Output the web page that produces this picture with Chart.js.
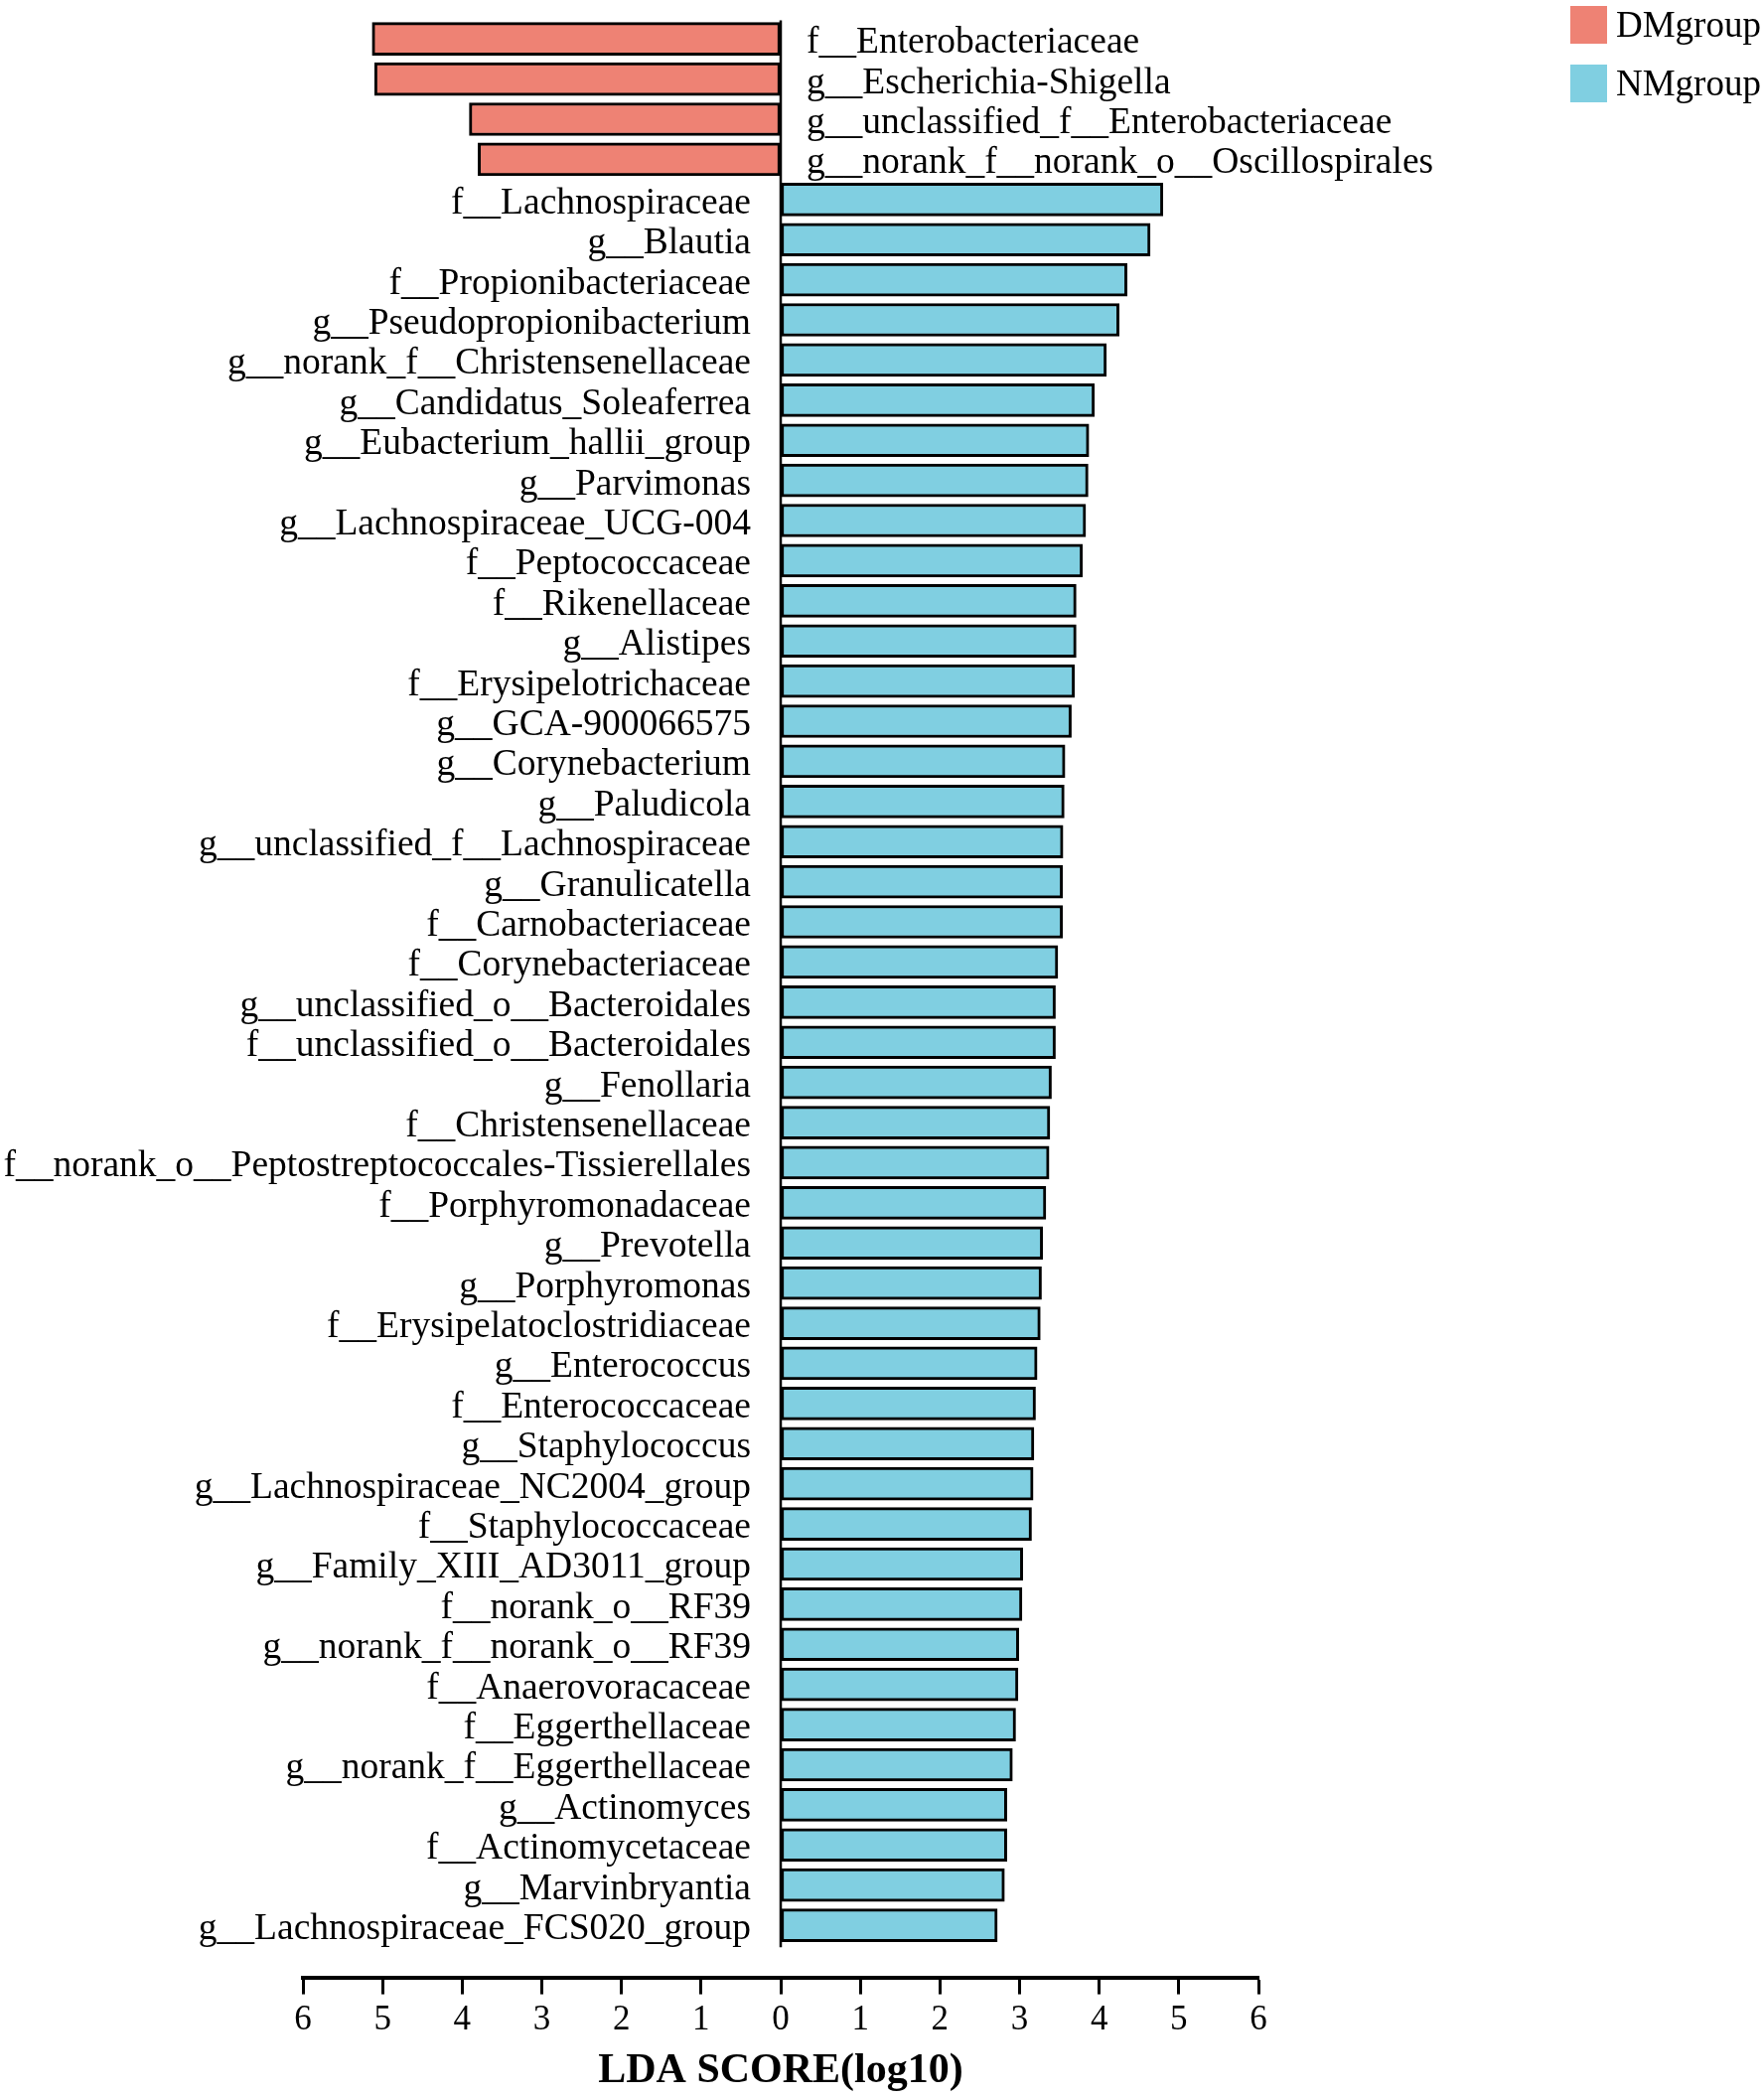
<!DOCTYPE html>
<html>
<head>
<meta charset="utf-8">
<title>LDA score</title>
<script src="https://cdn.jsdelivr.net/npm/chart.js@4.4.1/dist/chart.umd.min.js"></script>
<style>
  html, body { margin: 0; padding: 0; background: #fff; }
  #wrap { width: 1776px; height: 2112px; position: relative; }
</style>
</head>
<body>
<div id="wrap"><canvas id="lda"></canvas></div>
<script>
// taxa enriched in each group, top to bottom
const dmLabels = [
    'f__Enterobacteriaceae',
    'g__Escherichia-Shigella',
    'g__unclassified_f__Enterobacteriaceae',
    'g__norank_f__norank_o__Oscillospirales'
];
const dmScores = [5.13, 5.10, 3.91, 3.80];

const nmLabels = [
    'f__Lachnospiraceae',
    'g__Blautia',
    'f__Propionibacteriaceae',
    'g__Pseudopropionibacterium',
    'g__norank_f__Christensenellaceae',
    'g__Candidatus_Soleaferrea',
    'g__Eubacterium_hallii_group',
    'g__Parvimonas',
    'g__Lachnospiraceae_UCG-004',
    'f__Peptococcaceae',
    'f__Rikenellaceae',
    'g__Alistipes',
    'f__Erysipelotrichaceae',
    'g__GCA-900066575',
    'g__Corynebacterium',
    'g__Paludicola',
    'g__unclassified_f__Lachnospiraceae',
    'g__Granulicatella',
    'f__Carnobacteriaceae',
    'f__Corynebacteriaceae',
    'g__unclassified_o__Bacteroidales',
    'f__unclassified_o__Bacteroidales',
    'g__Fenollaria',
    'f__Christensenellaceae',
    'f__norank_o__Peptostreptococcales-Tissierellales',
    'f__Porphyromonadaceae',
    'g__Prevotella',
    'g__Porphyromonas',
    'f__Erysipelatoclostridiaceae',
    'g__Enterococcus',
    'f__Enterococcaceae',
    'g__Staphylococcus',
    'g__Lachnospiraceae_NC2004_group',
    'f__Staphylococcaceae',
    'g__Family_XIII_AD3011_group',
    'f__norank_o__RF39',
    'g__norank_f__norank_o__RF39',
    'f__Anaerovoracaceae',
    'f__Eggerthellaceae',
    'g__norank_f__Eggerthellaceae',
    'g__Actinomyces',
    'f__Actinomycetaceae',
    'g__Marvinbryantia',
    'g__Lachnospiraceae_FCS020_group'
];
const nmScores = [
    4.80, 4.64, 4.35, 4.25, 4.09, 3.94, 3.87, 3.86, 3.83, 3.79,
    3.71, 3.71, 3.69, 3.65, 3.57, 3.56, 3.545, 3.54, 3.54, 3.48,
    3.45, 3.45, 3.40, 3.38, 3.37, 3.33, 3.29, 3.275, 3.26, 3.22,
    3.20, 3.18, 3.17, 3.15, 3.04, 3.03, 2.99, 2.98, 2.95, 2.91,
    2.84, 2.84, 2.81, 2.72
];

const groupNames = ['DMgroup', 'NMgroup'];
const groupColors = ['rgb(238,130,116)', 'rgb(128,207,225)'];
const xTicks = [-6, -5, -4, -3, -2, -1, 0, 1, 2, 3, 4, 5, 6];

const allLabels = dmLabels.concat(nmLabels);
const serif = "'Liberation Serif', 'Times New Roman', serif";

Chart.defaults.font.family = serif;
Chart.defaults.color = '#000';

// names next to the zero line, DM on the right side, NM on the left
const taxonLabels = {
    id: 'taxonLabels',
    afterDatasetsDraw(chart) {
        const { ctx, scales: { x, y } } = chart;
        const x0 = x.getPixelForValue(0);
        ctx.save();
        ctx.font = '37.5px ' + serif;
        ctx.fillStyle = '#000';
        ctx.textBaseline = 'alphabetic';
        allLabels.forEach((name, i) => {
            const py = y.getPixelForValue(i) + 14;
            if (i < dmLabels.length) {
                ctx.textAlign = 'left';
                ctx.fillText(name, x0 + 26, py);
            } else {
                ctx.textAlign = 'right';
                ctx.fillText(name, x0 - 30, py);
            }
        });
        // zero line
        ctx.strokeStyle = '#000';
        ctx.lineWidth = 2.5;
        ctx.beginPath();
        ctx.moveTo(x0, y.getPixelForValue(-0.46));
        ctx.lineTo(x0, y.getPixelForValue(allLabels.length - 0.45));
        ctx.stroke();
        ctx.restore();
    }
};

// legend in the top right corner
const cornerLegend = {
    id: 'cornerLegend',
    afterDraw(chart) {
        const ctx = chart.ctx;
        ctx.save();
        ctx.font = '37px ' + serif;
        ctx.textAlign = 'left';
        ctx.textBaseline = 'alphabetic';
        chart.data.datasets.forEach((ds, i) => {
            const top = 6 + i * 59;
            ctx.fillStyle = ds.backgroundColor;
            ctx.fillRect(1581, top, 37, 38);
            ctx.fillStyle = '#000';
            ctx.fillText(ds.label, 1627, top + 31);
        });
        ctx.restore();
    }
};

function initChart() {
    const ctx = document.getElementById('lda').getContext('2d');
    new Chart(ctx, {
        type: 'bar',
        data: {
            datasets: [
                {
                    label: groupNames[0],
                    data: dmScores.map((v, i) => ({ x: -v, y: i })),
                    backgroundColor: groupColors[0]
                },
                {
                    label: groupNames[1],
                    data: nmScores.map((v, i) => ({ x: v, y: i + dmLabels.length })),
                    backgroundColor: groupColors[1]
                }
            ]
        },
        options: {
            indexAxis: 'y',
            responsive: true,
            maintainAspectRatio: false,
            animation: false,
            layout: { padding: { left: 305, right: 509, top: 19, bottom: 0 } },
            datasets: {
                bar: {
                    grouped: false,
                    barThickness: 33,
                    borderColor: '#000',
                    borderWidth: 3,
                    borderSkipped: false
                }
            },
            plugins: {
                legend: { display: false },
                tooltip: { enabled: false }
            },
            scales: {
                y: {
                    type: 'linear',
                    reverse: true,
                    offset: false,
                    min: -0.5,
                    max: 48.3,
                    grid: { offset: false },
                    display: false
                },
                x: {
                    type: 'linear',
                    offset: false,
                    min: xTicks[0],
                    max: xTicks[xTicks.length - 1],
                    afterBuildTicks: scale => {
                        scale.ticks = xTicks.map(v => ({ value: v }));
                    },
                    grid: {
                        drawOnChartArea: false,
                        drawTicks: true,
                        tickLength: 17,
                        tickWidth: 3,
                        tickColor: '#000'
                    },
                    border: { display: true, color: '#000', width: 4 },
                    ticks: {
                        color: '#000',
                        padding: 5,
                        font: { size: 35 },
                        callback: v => Math.abs(v)
                    },
                    title: {
                        display: true,
                        text: 'LDA SCORE(log10)',
                        color: '#000',
                        font: { size: 42, weight: 'bold' },
                        padding: { top: 0, bottom: 2 }
                    }
                }
            }
        },
        plugins: [taxonLabels, cornerLegend]
    });
}

document.addEventListener('DOMContentLoaded', initChart);
</script>
</body>
</html>
